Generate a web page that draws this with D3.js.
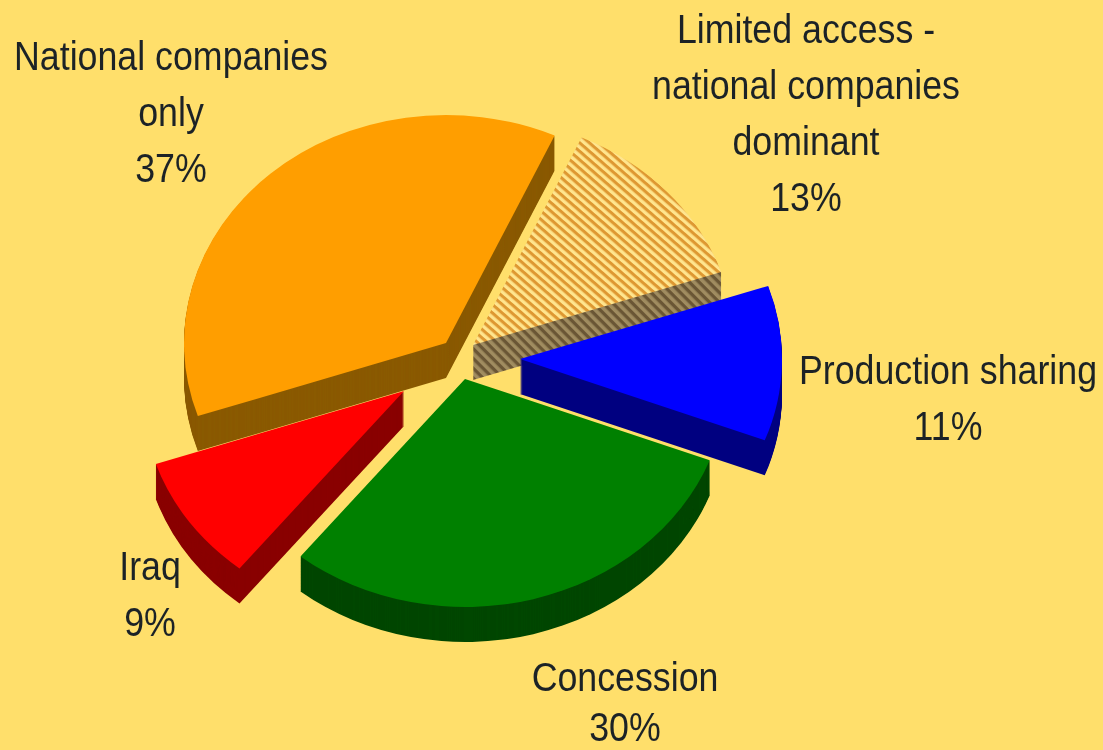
<!DOCTYPE html>
<html><head><meta charset="utf-8">
<script src="https://cdn.jsdelivr.net/npm/d3@7"></script>
<style>html,body{margin:0;padding:0;background:#FFDF6B;overflow:hidden}
svg{display:block}
text{font-family:"Liberation Sans",Arial,sans-serif;font-size:41px;fill:#1c2428;text-anchor:middle}</style>
</head><body>
<script>
const categories = ["Limited access - national companies dominant","Production sharing","Concession","Iraq","National companies only"];
const shares = [13,11,30,9,37];
const labelLines = [["Limited access -","national companies","dominant","13%"],["Production sharing","11%"],["Concession","30%"],["Iraq","9%"],["National companies","only","37%"]];
const topColors = ["url(#hatchTop)","#0000FF","#008000","#FF0000","#FF9E00"];
const sideColors = ["url(#hatchSide)","#000080","#004600","#8A0000","#8A5A00"];
const explode = [[15,-15],[62,-1],[7,19],[-54,31],[-12,-17]];
const labelAnchors = [[806,43],[948,384],[625,691],[150,580],[171,70]];
const labelLineHeights = [56,56,50,56,56];
const drawOrder = [0,4,1,3,2];

const W=1103,H=750,cx=458,cy=360,rx=262,ry=228,depth=35,textScaleX=0.872,hatchSize=6;
const svg=d3.select("body").append("svg").attr("width",W).attr("height",H);
const defs=svg.append("defs");
function hatch(id,bg,fg){
  const p=defs.append("pattern").attr("id",id).attr("patternUnits","userSpaceOnUse")
    .attr("width",hatchSize).attr("height",hatchSize).attr("patternTransform","rotate(45) scale(1,"+(rx/ry)+")");
  p.append("rect").attr("width",hatchSize).attr("height",hatchSize).attr("fill",bg);
  p.append("rect").attr("width",hatchSize).attr("height",hatchSize*0.48).attr("fill",fg);
}
hatch("hatchTop","#FFE58E","#DE9830");
hatch("hatchSide","#A08C60","#6A5634");
const f=defs.append("filter").attr("id","soft").attr("x",-.05).attr("y",-.05).attr("width",1.1).attr("height",1.1);
f.append("feGaussianBlur").attr("stdDeviation",0.6);
svg.append("rect").attr("width",W).attr("height",H).attr("fill","#FFDF6B");

const rot=24.5*Math.PI/180;
const pie=d3.pie().sort(null).startAngle(rot).endAngle(rot+2*Math.PI);
const arcs=pie(shares);
const arc=d3.arc().innerRadius(0).outerRadius(rx);
const g=svg.append("g").attr("filter","url(#soft)");
const depths=d3.range(depth,0,-1);
drawOrder.forEach(i=>{
  const d=arc(arcs[i]);
  const px=cx+explode[i][0],py=cy+explode[i][1];
  const s=g.append("g");
  const isPattern=sideColors[i].startsWith("url");
  // The wall is a stack of copies of the slice; a patterned wall is stacked in a mask so its hatch does not smear
  const wallParent=isPattern
    ? defs.append("mask").attr("id","wall"+i).attr("maskUnits","userSpaceOnUse").attr("x",0).attr("y",0).attr("width",W).attr("height",H)
    : s;
  wallParent.selectAll("path.side").data(depths).join("path").attr("class","side").attr("d",d)
    .attr("fill",isPattern?"#fff":sideColors[i])
    .attr("transform",k=>`translate(${px},${py+k}) scale(1,${ry/rx})`);
  if(isPattern) s.append("rect").attr("width",W).attr("height",H).attr("fill",sideColors[i]).attr("mask",`url(#wall${i})`);
  s.append("path").attr("d",d).attr("fill",topColors[i])
    .attr("transform",`translate(${px},${py}) scale(1,${ry/rx})`);
});
const t=svg.append("g").attr("filter","url(#soft)");
labelLines.forEach((lines,i)=>{
  lines.forEach((l,j)=>{
    t.append("text").attr("transform",`translate(${labelAnchors[i][0]},${labelAnchors[i][1]+j*labelLineHeights[i]}) scale(${textScaleX},1)`).text(l);
  });
});
</script>
</body></html>
